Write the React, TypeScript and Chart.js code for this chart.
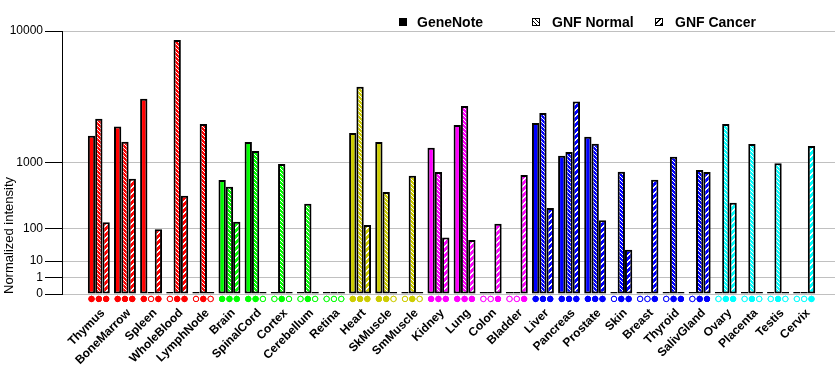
import React, { useEffect, useRef } from 'react';
import { Chart, registerables } from 'chart.js';

Chart.register(...registerables);

const categories = [
  'Thymus', 'BoneMarrow', 'Spleen', 'WholeBlood', 'LymphNode',
  'Brain', 'SpinalCord', 'Cortex', 'Cerebellum', 'Retina',
  'Heart', 'SkMuscle', 'SmMuscle',
  'Kidney', 'Lung', 'Colon', 'Bladder',
  'Liver', 'Pancreas', 'Prostate', 'Skin', 'Breast', 'Thyroid', 'SalivGland',
  'Ovary', 'Placenta', 'Testis', 'Cervix',
];

const geneNote = [
  1850, 2230, 3720, 0, 0,
  620, 1620, 0, 0, 0,
  1960, 1620, 0,
  1425, 2300, 0, 0,
  2390, 1180, 1810, 0, 0, 0, 0,
  0, 0, 0, 0,
];

const gnfNormal = [
  2600, 1630, 0, 8900, 2350,
  510, 1320, 963, 286, 0,
  4530, 430, 703,
  779, 3280, 0, 0,
  2890, 1290, 1560, 786, 0, 1150, 822,
  2350, 1550, 980, 0,
];

const gnfCancer = [
  133, 646, 95, 380, 0,
  137, 0, 0, 0, 0,
  117, 0, 0,
  60, 52, 125, 717,
  244, 3550, 146, 27, 627, 0, 779,
  297, 0, 0, 1480,
];

// data availability markers below the axis (1 = filled, 0 = hollow)
const geneNotePresent = [1, 1, 1, 0, 0, 1, 1, 0, 0, 0, 1, 1, 0, 1, 1, 0, 0, 1, 1, 1, 0, 0, 0, 0, 0, 0, 0, 0];
const gnfNormalPresent = [1, 1, 0, 1, 1, 1, 1, 1, 1, 0, 1, 1, 1, 1, 1, 0, 0, 1, 1, 1, 1, 0, 1, 1, 1, 1, 1, 0];
const gnfCancerPresent = [1, 1, 1, 1, 0, 1, 0, 0, 0, 0, 1, 0, 0, 1, 1, 1, 1, 1, 1, 1, 1, 1, 1, 1, 1, 0, 0, 1];

const yTickValues = [0, 1, 10, 100, 1000, 10000];
const seriesNames = ['GeneNote', 'GNF Normal', 'GNF Cancer'];

const palette = ['#ff0000', '#00ff00', '#cccc00', '#ff00ff', '#0000ff', '#00ffff'];
const colorGroup = [
  0, 0, 0, 0, 0,
  1, 1, 1, 1, 1,
  2, 2, 2,
  3, 3, 3, 3,
  4, 4, 4, 4, 4, 4, 4,
  5, 5, 5, 5,
];

const EXP = Math.log10(2);
const tf = (v: number) => (v > 0 ? Math.pow(v, EXP) : 0);
const CAT_PCT = 0.84;
const MARK_Y = -0.3;
const FONT = '"Liberation Sans", Arial, Helvetica, sans-serif';

function makePattern(ctx: CanvasRenderingContext2D, bg: string, fg: string, kind: 'n' | 'c') {
  const size = kind === 'n' ? 4 : 6;
  const c = document.createElement('canvas');
  c.width = size;
  c.height = size;
  const g = c.getContext('2d')!;
  g.fillStyle = bg;
  g.fillRect(0, 0, size, size);
  g.fillStyle = fg;
  for (let y = 0; y < size; y++) {
    for (let x = 0; x < size; x++) {
      if (kind === 'n') {
        if (((x - y) % size + size) % size === 0) g.fillRect(x, y, 1, 1);
      } else {
        if ((x + y) % size < 2) g.fillRect(x, y, 1, 1);
      }
    }
  }
  return ctx.createPattern(c, 'repeat')!;
}

export default function App() {
  const ref = useRef<HTMLCanvasElement>(null);

  useEffect(() => {
    const canvas = ref.current!;
    const ctx = canvas.getContext('2d')!;
    const normalP = palette.map((c) => makePattern(ctx, c, '#ffffff', 'n'));
    const cancerP = palette.map((c) => makePattern(ctx, c, '#ffffff', 'c'));
    const fills: any[][] = [palette, normalP, cancerP];
    const legendFills: any[] = ['#000000', makePattern(ctx, '#ffffff', '#000000', 'n'), makePattern(ctx, '#ffffff', '#000000', 'c')];
    const series = [geneNote, gnfNormal, gnfCancer];
    const flags = [geneNotePresent, gnfNormalPresent, gnfCancerPresent];

    const barSets = series.map((s, k) => ({
      type: 'bar' as const,
      label: seriesNames[k],
      data: s.map((v, i) => ({ x: i, y: tf(v) })),
      backgroundColor: categories.map((_, i) => fills[k][colorGroup[i]]),
      borderColor: '#000000',
      borderWidth: 2,
      borderSkipped: false,
      minBarLength: 2,
      categoryPercentage: CAT_PCT,
      barPercentage: 1,
      order: 2,
    }));

    const markerSets = flags.map((f, k) => ({
      type: 'line' as const,
      label: seriesNames[k] + ' marker',
      showLine: false,
      clip: false,
      data: f.map((_, i) => ({ x: i + ((k - 1) * CAT_PCT) / 3, y: MARK_Y })),
      pointStyle: 'circle',
      pointRadius: 2.7,
      pointBorderWidth: 1,
      pointBackgroundColor: f.map((p, i) => (p ? palette[colorGroup[i]] : '#ffffff')),
      pointBorderColor: f.map((_, i) => palette[colorGroup[i]]),
      order: 1,
    }));

    // marker points sit below the plot area; draw the library's point elements without area clipping
    const markerPlugin = {
      id: 'markersBelowAxis',
      afterDatasetsDraw(chart: any) {
        const big = { left: -1e5, top: -1e5, right: 1e5, bottom: 1e5 };
        chart.data.datasets.forEach((ds: any, di: number) => {
          if (ds.type !== 'line') return;
          const meta = chart.getDatasetMeta(di);
          meta.data.forEach((pt: any) => pt.draw(chart.ctx, big));
        });
      },
    };

    const legendPlugin = {
      id: 'customLegend',
      afterDraw(chart: any) {
        const c = chart.ctx;
        const items = [
          { box: 399, text: 417 },
          { box: 532, text: 552 },
          { box: 655, text: 675 },
        ];
        c.save();
        c.font = `bold 14px ${FONT}`;
        c.textBaseline = 'alphabetic';
        c.textAlign = 'left';
        items.forEach((it, k) => {
          c.fillStyle = legendFills[k];
          c.fillRect(it.box, 18, 8, 8);
          c.strokeStyle = '#000';
          c.lineWidth = 1;
          c.strokeRect(it.box + 0.5, 18.5, 7, 7);
          c.fillStyle = '#000';
          c.fillText(seriesNames[k], it.text, 27);
        });
        c.restore();
      },
    };

    const chart = new Chart(canvas, {
      type: 'bar',
      data: { datasets: [...barSets, ...markerSets] as any },
      options: {
        animation: false,
        responsive: true,
        maintainAspectRatio: false,
        layout: { padding: { top: 31, right: 2, left: 0, bottom: 0 } },
        plugins: { legend: { display: false }, tooltip: { enabled: false } },
        scales: {
          x: {
            type: 'linear',
            offset: false,
            min: -1.41,
            max: 28.18,
            grid: { display: false, offset: false },
            border: { display: false },
            afterBuildTicks: (s: any) => {
              s.ticks = categories.map((_, i) => ({ value: i }));
            },
            afterFit: (s: any) => {
              s.height = 91;
            },
            ticks: {
              autoSkip: false,
              minRotation: 45,
              maxRotation: 45,
              padding: 4,
              labelOffset: 4,
              color: '#000',
              font: { family: FONT, size: 12, weight: 'bold' },
              callback: (v: any) => categories[Math.round(Number(v))] ?? '',
            },
          },
          y: {
            type: 'linear',
            min: 0,
            max: tf(10000),
            afterBuildTicks: (s: any) => {
              s.ticks = yTickValues.map((v) => ({ value: tf(v) }));
            },
            afterFit: (s: any) => {
              s.width = 62;
            },
            grid: { color: '#c0c0c0', tickColor: '#000000', tickLength: 17, lineWidth: 1 },
            border: { display: true, color: '#000000', width: 1 },
            ticks: {
              padding: 2,
              color: '#000',
              font: { family: FONT, size: 12 },
              callback: (v: any) => {
                const idx = yTickValues.findIndex((t) => Math.abs(tf(t) - Number(v)) < 1e-6);
                return idx >= 0 ? String(yTickValues[idx]) : '';
              },
            },
            title: {
              display: true,
              text: 'Normalized intensity',
              align: 'start',
              color: '#000',
              padding: { top: 2, bottom: 0 },
              font: { family: FONT, size: 13 },
            },
          },
        },
      } as any,
      plugins: [markerPlugin, legendPlugin],
    });
    return () => chart.destroy();
  }, []);

  return (
    <div style={{ position: 'absolute', left: 0, top: 0, width: 840, height: 385, background: '#fff' }}>
      <canvas ref={ref} />
    </div>
  );
}
